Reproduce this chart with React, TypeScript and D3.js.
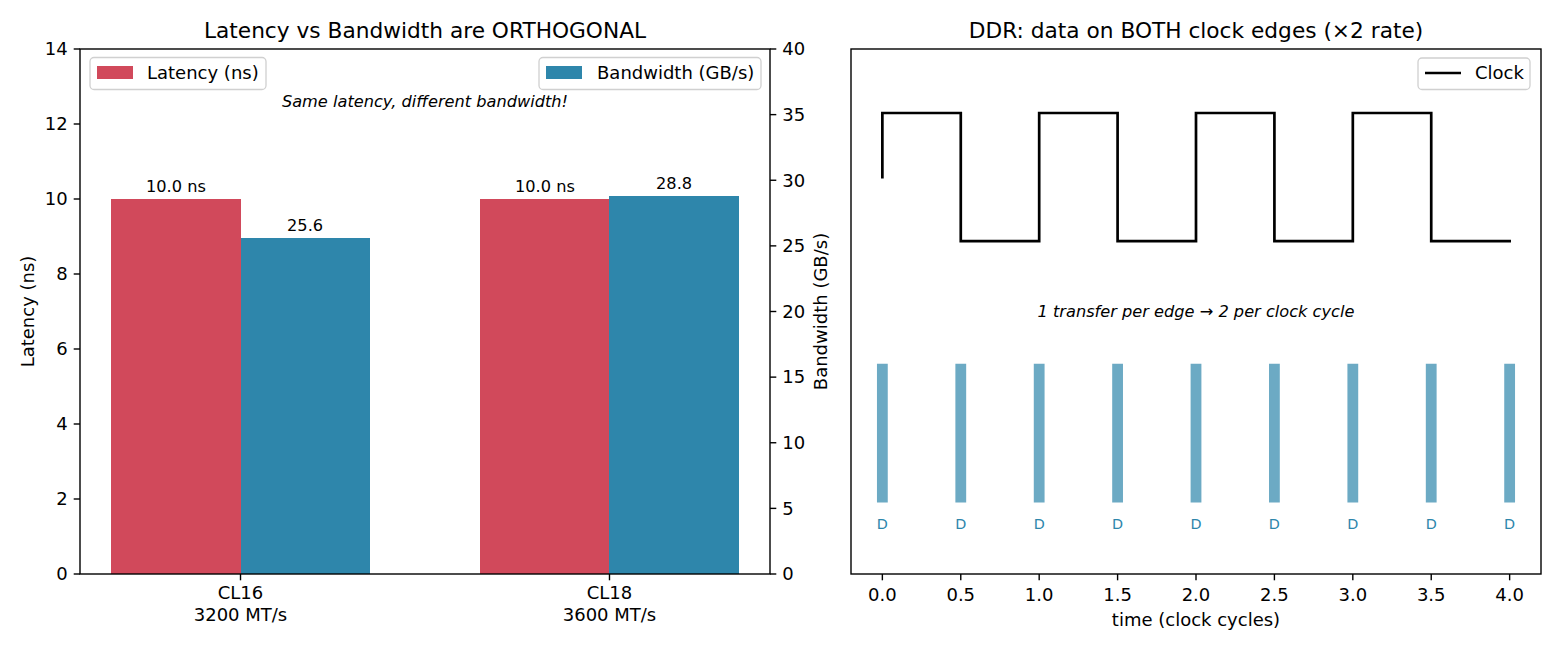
import React from 'react';
import * as d3 from 'd3';

// ---------- data ----------
const catLine1 = ['CL16', 'CL18'];
const catLine2 = ['3200 MT/s', '3600 MT/s'];
const latencyNs = [10.0, 10.0];
const bandwidthGBs = [25.6, 28.8];
const latencyTicks = [0, 2, 4, 6, 8, 10, 12, 14];
const bandwidthTicks = [0, 5, 10, 15, 20, 25, 30, 35, 40];

const clockT = [0, 0, 0.5, 0.5, 1.0, 1.0, 1.5, 1.5, 2.0, 2.0, 2.5, 2.5, 3.0, 3.0, 3.5, 3.5, 4.0];
const clockV = [0.5, 1, 1, 0, 0, 1, 1, 0, 0, 1, 1, 0, 0, 1, 1, 0, 0];
const transferT = [0, 0.5, 1.0, 1.5, 2.0, 2.5, 3.0, 3.5, 4.0];
const timeTicks = [0, 0.5, 1.0, 1.5, 2.0, 2.5, 3.0, 3.5, 4.0];

const RED = '#d1495b';
const BLUE = '#2e86ab';
const FONT = 'DejaVu Sans, sans-serif';

export default function App() {
  // left panel
  const L = { x0: 80, x1: 770, y0: 49, y1: 574 };
  const barW = 0.35;
  const xC = d3.scaleLinear().domain([-0.435, 1.435]).range([L.x0, L.x1]);
  const yLat = d3.scaleLinear().domain([0, 14]).range([L.y1, L.y0]);
  const yBw = d3.scaleLinear().domain([0, 40]).range([L.y1, L.y0]);

  // right panel
  const R = { x0: 851, x1: 1541, y0: 49, y1: 574 };
  const xT = d3.scaleLinear().domain([-0.2, 4.2]).range([R.x0, R.x1]);
  const yR = d3.scaleLinear().domain([-2.6, 1.5]).range([R.y1, R.y0]);
  const clockPts: [number, number][] = clockT.map((t, i) => [t, clockV[i]]);
  const clockPath = d3.line<[number, number]>().x(d => xT(d[0])).y(d => yR(d[1]))(clockPts) || '';

  const tickLen = 6.3;
  const spine = 1.4;

  return (
    <svg width={1560} height={650} style={{ position: 'absolute', left: 0, top: 0, background: '#fff' }} fontFamily={FONT}>
      <rect x={0} y={0} width={1560} height={650} fill="#fff" />
      {/* ===== LEFT PANEL ===== */}
      <text x={(L.x0 + L.x1) / 2} y={38} textAnchor="middle" fontSize={21.7} fill="#000">Latency vs Bandwidth are ORTHOGONAL</text>
      {latencyNs.map((v, i) => (
        <rect key={'lat' + i} x={xC(i - barW)} y={yLat(v)} width={xC(barW) - xC(0) + 0.5} height={yLat(0) - yLat(v)} fill={RED} shapeRendering="crispEdges" />
      ))}
      {bandwidthGBs.map((v, i) => (
        <rect key={'bw' + i} x={xC(i)} y={yBw(v)} width={xC(barW) - xC(0)} height={yBw(0) - yBw(v)} fill={BLUE} shapeRendering="crispEdges" />
      ))}
      {latencyNs.map((v, i) => (
        <text key={'latl' + i} x={xC(i - barW / 2)} y={yLat(v + 0.2)} textAnchor="middle" fontSize={16.2} fill="#000">{v.toFixed(1)} ns</text>
      ))}
      {bandwidthGBs.map((v, i) => (
        <text key={'bwl' + i} x={xC(i + barW / 2)} y={yBw(v + 0.5)} textAnchor="middle" fontSize={16.2} fill="#000">{v.toFixed(1)}</text>
      ))}
      <text x={(L.x0 + L.x1) / 2} y={L.y1 - 0.9 * (L.y1 - L.y0) + 5} textAnchor="middle" fontSize={16.2} fontStyle="italic" fill="#000">Same latency, different bandwidth!</text>
      {/* spines */}
      <rect x={L.x0} y={L.y0} width={L.x1 - L.x0} height={L.y1 - L.y0} fill="none" stroke="#000" strokeWidth={spine} />
      {/* left y ticks */}
      {latencyTicks.map(t => (
        <g key={'lt' + t}>
          <line x1={L.x0 - tickLen} x2={L.x0} y1={yLat(t)} y2={yLat(t)} stroke="#000" strokeWidth={1.4} />
          <text x={L.x0 - tickLen - 6} y={yLat(t)} dy="0.35em" textAnchor="end" fontSize={18} fill="#000">{t}</text>
        </g>
      ))}
      {/* right y ticks */}
      {bandwidthTicks.map(t => (
        <g key={'bt' + t}>
          <line x1={L.x1} x2={L.x1 + tickLen} y1={yBw(t)} y2={yBw(t)} stroke="#000" strokeWidth={1.4} />
          <text x={L.x1 + tickLen + 6} y={yBw(t)} dy="0.35em" textAnchor="start" fontSize={18} fill="#000">{t}</text>
        </g>
      ))}
      {/* x ticks */}
      {catLine1.map((c, i) => (
        <g key={'xc' + i}>
          <line x1={xC(i)} x2={xC(i)} y1={L.y1} y2={L.y1 + tickLen} stroke="#000" strokeWidth={1.4} />
          <text x={xC(i)} y={599} textAnchor="middle" fontSize={18} fill="#000">{c}</text>
          <text x={xC(i)} y={621} textAnchor="middle" fontSize={18} fill="#000">{catLine2[i]}</text>
        </g>
      ))}
      <text transform={`translate(34,${(L.y0 + L.y1) / 2}) rotate(-90)`} textAnchor="middle" fontSize={18} fill="#000">Latency (ns)</text>
      <text transform={`translate(827,${(L.y0 + L.y1) / 2}) rotate(-90)`} textAnchor="middle" fontSize={18} fill="#000">Bandwidth (GB/s)</text>
      {/* legends */}
      <g>
        <rect x={90} y={57.5} width={176} height={32} rx={4} fill="#fff" fillOpacity={0.8} stroke="#d0d0d0" strokeWidth={1.3} />
        <rect x={97} y={66} width={36} height={13} fill={RED} />
        <text x={147} y={79} fontSize={18} fill="#000">Latency (ns)</text>
      </g>
      <g>
        <rect x={539} y={57.5} width={222} height={32} rx={4} fill="#fff" fillOpacity={0.8} stroke="#d0d0d0" strokeWidth={1.3} />
        <rect x={546} y={66} width={36} height={13} fill={BLUE} />
        <text x={597} y={79} fontSize={18} fill="#000">Bandwidth (GB/s)</text>
      </g>

      {/* ===== RIGHT PANEL ===== */}
      <text x={(R.x0 + R.x1) / 2} y={38} textAnchor="middle" fontSize={21.7} fill="#000">DDR: data on BOTH clock edges (×2 rate)</text>
      <path d={clockPath} fill="none" stroke="#000" strokeWidth={2.7} strokeLinecap="square" strokeLinejoin="miter" />
      {transferT.map((t, i) => (
        <g key={'tr' + i}>
          <line x1={xT(t)} x2={xT(t)} y1={yR(-2)} y2={yR(-1)} stroke={BLUE} strokeOpacity={0.7} strokeWidth={10.8} strokeLinecap="square" />
          <text x={xT(t)} y={yR(-2.2)} dy="0.42em" textAnchor="middle" fontSize={14.4} fill={BLUE}>D</text>
        </g>
      ))}
      <text x={xT(2)} y={yR(-0.55)} dy="0.35em" textAnchor="middle" fontSize={16.2} fontStyle="italic" fill="#000">1 transfer per edge → 2 per clock cycle</text>
      <rect x={R.x0} y={R.y0} width={R.x1 - R.x0} height={R.y1 - R.y0} fill="none" stroke="#000" strokeWidth={spine} />
      {timeTicks.map(t => (
        <g key={'tt' + t}>
          <line x1={xT(t)} x2={xT(t)} y1={R.y1} y2={R.y1 + tickLen} stroke="#000" strokeWidth={1.4} />
          <text x={xT(t)} y={601} textAnchor="middle" fontSize={18} fill="#000">{t.toFixed(1)}</text>
        </g>
      ))}
      <text x={(R.x0 + R.x1) / 2} y={626} textAnchor="middle" fontSize={18} fill="#000">time (clock cycles)</text>
      <g>
        <rect x={1418} y={58} width={112} height={31.5} rx={4} fill="#fff" fillOpacity={0.8} stroke="#d0d0d0" strokeWidth={1.3} />
        <line x1={1425} x2={1461} y1={73} y2={73} stroke="#000" strokeWidth={2.7} />
        <text x={1475} y={79} fontSize={18} fill="#000">Clock</text>
      </g>
    </svg>
  );
}
